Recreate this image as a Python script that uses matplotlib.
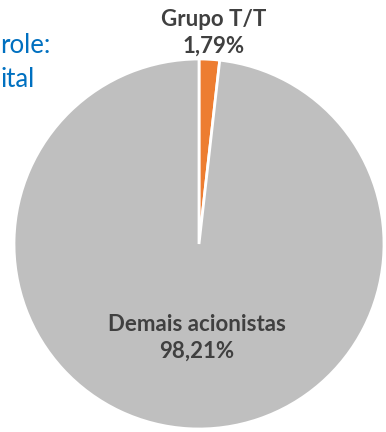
import matplotlib.pyplot as plt

# participação acionária
groups = ["Grupo T/T", "Demais acionistas"]
shares = [1.79, 98.21]
colors = ["#ED7D31", "#BFBFBF"]

W, H = 386, 432
fig = plt.figure(figsize=(W / 100, H / 100), dpi=100)

# pie area in pixels: center (199, 244), radius ~185
cx, cy, r = 199, 244, 185
ax = fig.add_axes([(cx - r) / W, (H - cy - r) / H, 2 * r / W, 2 * r / H])
ax.pie(shares, colors=colors, startangle=90, counterclock=False, radius=1,
       wedgeprops=dict(edgecolor="white", linewidth=2))
ax.set_xlim(-1, 1)
ax.set_ylim(-1, 1)
ax.set_aspect("equal")
ax.axis("off")


def fmt(v):
    return f"{v:.2f}%".replace(".", ",")


lab = dict(fontfamily="Lato", fontweight="bold", color="#404040",
           fontsize=16, ha="center", va="center", linespacing=1.3)
ax.text((214 - cx) / r, (cy - 33) / r, f"{groups[0]}\n{fmt(shares[0])}",
        clip_on=False, **lab)
ax.text((197 - cx) / r, (cy - 338) / r, f"{groups[1]}\n{fmt(shares[1])}", **lab)

# título (só o final das linhas aparece)
blue = dict(fontfamily="Lato", fontsize=18.5, color="#0070C0",
            ha="left", va="baseline")
fig.text(0, 1 - 53 / H, "role:", **blue)
fig.text(0, 1 - 87 / H, "ital", **blue)

fig.savefig("out.png", dpi=100)
